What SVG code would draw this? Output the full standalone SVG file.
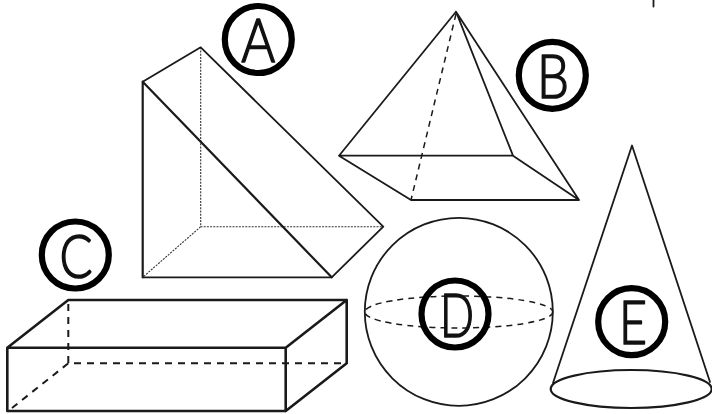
<svg xmlns="http://www.w3.org/2000/svg" width="712" height="414" viewBox="0 0 712 414">
<style>
.bg{fill:#fff}
.s{fill:none;stroke:#1a1a1a;stroke-width:1.8;stroke-linejoin:round;stroke-linecap:round}
.h{stroke-width:2.2}
.b{stroke-width:2.6}
.dot{fill:none;stroke:#333;stroke-width:1.1;stroke-dasharray:2 1.2}
.dash{fill:none;stroke:#1a1a1a;stroke-width:1.5;stroke-dasharray:6 5}
.dashb{fill:none;stroke:#1a1a1a;stroke-width:2;stroke-dasharray:7 6}
.ring{fill:none;stroke:#000;stroke-width:6.2}
.t{font-family:"Lato","Liberation Sans",sans-serif;font-size:62px;font-weight:300;fill:#111;stroke:#111;stroke-width:1.7;stroke-linejoin:round;text-anchor:middle}
</style>
<rect class="bg" width="712" height="414"/>
<g id="connectors">
<path class="s" d="M653.5 0V6.5"/>
</g>
<g id="node-a">
<path class="dot" d="M200.7 47.3V226.7H383.3M200.7 226.7L142.7 277.3"/>
<path class="s" d="M142.7 81.7L200.7 47.3L383.3 226.7L331.7 277.3H142.7"/>
<path class="s h" d="M142.7 277.3V81.7L331.7 277.3"/>
<circle class="ring" cx="258.3" cy="39.5" r="33.5"/>
<text class="t" x="258.3" y="62" textLength="34" lengthAdjust="spacingAndGlyphs">A</text>
</g>
<g id="node-b">
<path class="dash" d="M456 14L411 200"/>
<path class="s" d="M456 11.7L339 155.7H513L456 11.7L579 200L513 155.7M339 155.7L411 200H579"/>
<circle class="ring" cx="552.3" cy="75.3" r="33.5"/>
<text class="t" x="553" y="98" textLength="32" lengthAdjust="spacingAndGlyphs">B</text>
</g>
<g id="node-c">
<path class="dashb" d="M68.3 304V363.3H346.7M68.3 363.3L12 408"/>
<path class="s b" d="M7.3 347.7H285.7V411H7.3ZM7.3 347.7L68.3 300H346.7V363.3L285.7 411M285.7 347.7L346.7 300"/>
<circle class="ring" cx="75.3" cy="255" r="33.5"/>
<text class="t" x="76" y="277.5" textLength="33" lengthAdjust="spacingAndGlyphs">C</text>
</g>
<g id="node-d">
<circle class="s" cx="458.8" cy="311.8" r="94"/>
<ellipse class="dash" cx="458.8" cy="312" rx="94" ry="16"/>
<circle class="ring" cx="455" cy="314" r="33.5"/>
<text class="t" x="457" y="337" textLength="34" lengthAdjust="spacingAndGlyphs">D</text>
</g>
<g id="node-e">
<path class="s" d="M553 383L632 145.5L710 382"/>
<ellipse class="s h" cx="631.2" cy="389" rx="80.5" ry="19"/>
<circle class="ring" cx="631.7" cy="321.7" r="33.5"/>
<text class="t" x="633" y="344" textLength="28" lengthAdjust="spacingAndGlyphs">E</text>
</g>
</svg>
